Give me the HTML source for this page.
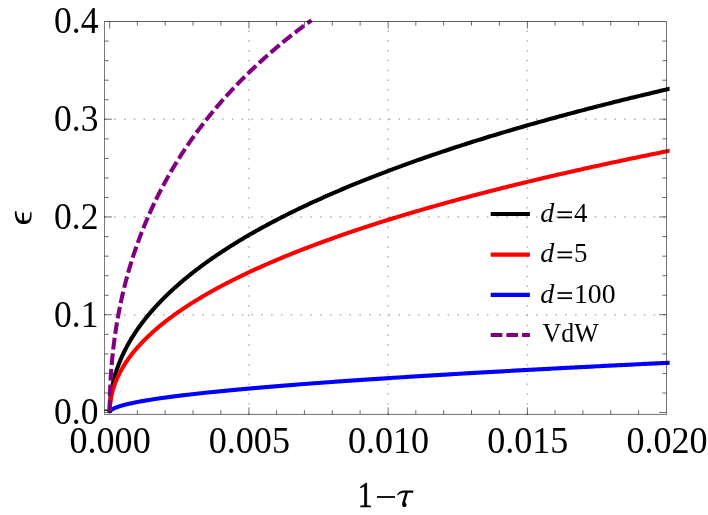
<!DOCTYPE html>
<html><head><meta charset="utf-8"><title>plot</title>
<style>
html,body{margin:0;padding:0;background:#fff;}
body{width:708px;height:515px;overflow:hidden;font-family:"Liberation Serif",serif;}
svg{display:block;will-change:transform;}
text{font-family:"Liberation Serif",serif;fill:#000;}
.it{font-style:italic;}
.grid line{stroke:#b0b0b0;stroke-width:1.45;stroke-dasharray:1.5 8.309;stroke-dashoffset:0.15;fill:none;}
.grid line.v{stroke-dashoffset:0.9;}
.frame line{fill:none;stroke:#000;stroke-width:1;}
.ticks line{stroke:#000;stroke-opacity:0.58;stroke-width:1;}
.ticks line.maj{stroke-width:1;}
.cv{fill:none;stroke-width:4.1;stroke-linecap:butt;stroke-linejoin:round;}
</style></head><body>
<svg width="708" height="515" viewBox="0 0 708 515">
<rect width="708" height="515" fill="#fff"/>
<g class="grid"><line class="v" x1="248.94" y1="21.50" x2="248.94" y2="414.40"/><line class="v" x1="388.17" y1="21.50" x2="388.17" y2="414.40"/><line class="v" x1="527.40" y1="21.50" x2="527.40" y2="414.40"/><line x1="104.50" y1="314.70" x2="666.50" y2="314.70"/><line x1="104.50" y1="216.95" x2="666.50" y2="216.95"/><line x1="104.50" y1="119.20" x2="666.50" y2="119.20"/></g>
<defs><clipPath id="cp"><rect x="100" y="15" width="569.6" height="405"/></clipPath></defs>
<g clip-path="url(#cp)">
<line x1="104.5" y1="410.2" x2="109.5" y2="410.2" stroke="#000" stroke-width="1.4"/>
<path class="cv" stroke="#000" d="M109.70 412.45 L109.70 411.48 L109.71 410.50 L109.73 409.53 L109.76 408.56 L109.79 407.59 L109.83 406.62 L109.87 405.65 L109.93 404.68 L109.99 403.72 L110.05 402.75 L110.13 401.78 L110.21 400.82 L110.30 399.86 L110.39 398.89 L110.50 397.93 L110.61 396.97 L110.72 396.01 L110.85 395.05 L110.98 394.09 L111.12 393.13 L111.26 392.17 L111.41 391.22 L111.57 390.26 L111.74 389.30 L111.91 388.35 L112.09 387.40 L112.28 386.44 L112.47 385.49 L112.68 384.54 L112.88 383.59 L113.10 382.64 L113.32 381.69 L113.55 380.75 L113.79 379.80 L114.03 378.85 L114.29 377.91 L114.54 376.96 L114.81 376.02 L115.08 375.08 L115.36 374.13 L115.65 373.19 L115.94 372.25 L116.24 371.31 L116.55 370.37 L116.87 369.43 L117.19 368.50 L117.52 367.56 L117.85 366.62 L118.20 365.69 L118.55 364.76 L118.90 363.82 L119.27 362.89 L119.64 361.96 L120.02 361.03 L120.40 360.10 L120.80 359.17 L121.20 358.24 L121.60 357.31 L122.02 356.38 L122.44 355.46 L122.87 354.53 L123.30 353.61 L123.74 352.68 L124.19 351.76 L124.65 350.84 L125.11 349.92 L125.58 349.00 L126.06 348.08 L126.55 347.16 L127.04 346.24 L127.54 345.32 L128.04 344.41 L128.56 343.49 L129.08 342.58 L129.60 341.66 L130.14 340.75 L130.68 339.84 L131.23 338.93 L131.78 338.02 L132.35 337.11 L132.91 336.20 L133.49 335.29 L134.08 334.38 L134.67 333.47 L135.26 332.57 L135.87 331.66 L136.48 330.76 L137.10 329.86 L137.73 328.95 L138.36 328.05 L139.00 327.15 L139.65 326.25 L140.30 325.35 L140.96 324.45 L141.63 323.55 L142.31 322.66 L142.99 321.76 L143.68 320.86 L144.38 319.97 L145.08 319.08 L145.79 318.18 L146.51 317.29 L147.24 316.40 L147.97 315.51 L148.71 314.62 L149.46 313.73 L150.21 312.84 L150.97 311.95 L151.74 311.07 L152.51 310.18 L153.30 309.30 L154.08 308.41 L154.88 307.53 L155.68 306.65 L156.49 305.77 L157.31 304.88 L158.14 304.00 L158.97 303.13 L159.81 302.25 L160.65 301.37 L161.50 300.49 L162.36 299.62 L163.23 298.74 L164.10 297.87 L164.99 296.99 L165.87 296.12 L166.77 295.25 L167.67 294.38 L168.58 293.51 L169.50 292.64 L170.42 291.77 L171.35 290.90 L172.29 290.03 L173.23 289.17 L174.19 288.30 L175.14 287.44 L176.11 286.57 L177.08 285.71 L178.06 284.85 L179.05 283.98 L180.04 283.12 L181.05 282.26 L182.05 281.40 L183.07 280.55 L184.09 279.69 L185.12 278.83 L186.16 277.98 L187.20 277.12 L188.25 276.27 L189.31 275.41 L190.38 274.56 L191.45 273.71 L192.53 272.86 L193.61 272.01 L194.71 271.16 L195.81 270.31 L196.92 269.46 L198.03 268.61 L199.15 267.77 L200.28 266.92 L201.42 266.08 L202.56 265.23 L203.71 264.39 L204.87 263.55 L206.03 262.71 L207.20 261.87 L208.38 261.03 L209.56 260.19 L210.76 259.35 L211.96 258.51 L213.16 257.68 L214.38 256.84 L215.60 256.00 L216.83 255.17 L218.06 254.34 L219.30 253.50 L220.55 252.67 L221.81 251.84 L223.07 251.01 L224.34 250.18 L225.62 249.35 L226.90 248.53 L228.19 247.70 L229.49 246.87 L230.80 246.05 L232.11 245.22 L233.43 244.40 L234.76 243.58 L236.09 242.75 L237.43 241.93 L238.78 241.11 L240.14 240.29 L241.50 239.47 L242.87 238.66 L244.24 237.84 L245.63 237.02 L247.02 236.21 L248.42 235.39 L249.82 234.58 L251.23 233.77 L252.65 232.95 L254.08 232.14 L255.51 231.33 L256.95 230.52 L258.40 229.71 L259.85 228.90 L261.31 228.10 L262.78 227.29 L264.26 226.48 L265.74 225.68 L267.23 224.87 L268.73 224.07 L270.23 223.27 L271.74 222.47 L273.26 221.66 L274.78 220.86 L276.31 220.06 L277.85 219.27 L279.40 218.47 L280.95 217.67 L282.51 216.87 L284.08 216.08 L285.66 215.28 L287.24 214.49 L288.83 213.70 L290.42 212.91 L292.02 212.11 L293.63 211.32 L295.25 210.53 L296.88 209.74 L298.51 208.96 L300.15 208.17 L301.79 207.38 L303.44 206.60 L305.10 205.81 L306.77 205.03 L308.44 204.24 L310.12 203.46 L311.81 202.68 L313.51 201.90 L315.21 201.12 L316.92 200.34 L318.63 199.56 L320.36 198.78 L322.09 198.01 L323.82 197.23 L325.57 196.45 L327.32 195.68 L329.08 194.91 L330.84 194.13 L332.62 193.36 L334.40 192.59 L336.18 191.82 L337.98 191.05 L339.78 190.28 L341.59 189.51 L343.40 188.75 L345.22 187.98 L347.05 187.21 L348.89 186.45 L350.73 185.69 L352.58 184.92 L354.44 184.16 L356.30 183.40 L358.18 182.64 L360.06 181.88 L361.94 181.12 L363.83 180.36 L365.73 179.60 L367.64 178.85 L369.56 178.09 L371.48 177.33 L373.41 176.58 L375.34 175.83 L377.28 175.07 L379.23 174.32 L381.19 173.57 L383.15 172.82 L385.12 172.07 L387.10 171.32 L389.09 170.57 L391.08 169.83 L393.08 169.08 L395.08 168.34 L397.10 167.59 L399.12 166.85 L401.15 166.10 L403.18 165.36 L405.22 164.62 L407.27 163.88 L409.33 163.14 L411.39 162.40 L413.46 161.66 L415.54 160.93 L417.62 160.19 L419.71 159.45 L421.81 158.72 L423.91 157.98 L426.03 157.25 L428.15 156.52 L430.27 155.79 L432.41 155.06 L434.55 154.32 L436.70 153.60 L438.85 152.87 L441.01 152.14 L443.18 151.41 L445.36 150.69 L447.54 149.96 L449.73 149.24 L451.93 148.51 L454.13 147.79 L456.34 147.07 L458.56 146.35 L460.79 145.63 L463.02 144.91 L465.26 144.19 L467.51 143.47 L469.76 142.75 L472.02 142.04 L474.29 141.32 L476.56 140.61 L478.85 139.89 L481.14 139.18 L483.43 138.47 L485.74 137.75 L488.05 137.04 L490.36 136.33 L492.69 135.62 L495.02 134.92 L497.36 134.21 L499.70 133.50 L502.06 132.80 L504.42 132.09 L506.79 131.39 L509.16 130.68 L511.54 129.98 L513.93 129.28 L516.32 128.58 L518.73 127.88 L521.14 127.18 L523.55 126.48 L525.98 125.78 L528.41 125.08 L530.85 124.39 L533.29 123.69 L535.74 123.00 L538.20 122.30 L540.67 121.61 L543.14 120.92 L545.62 120.23 L548.11 119.54 L550.60 118.85 L553.10 118.16 L555.61 117.47 L558.13 116.78 L560.65 116.09 L563.18 115.41 L565.72 114.72 L568.26 114.04 L570.81 113.36 L573.37 112.67 L575.94 111.99 L578.51 111.31 L581.09 110.63 L583.68 109.95 L586.27 109.27 L588.87 108.60 L591.48 107.92 L594.09 107.24 L596.71 106.57 L599.34 105.89 L601.98 105.22 L604.62 104.55 L607.27 103.87 L609.93 103.20 L612.59 102.53 L615.27 101.86 L617.94 101.19 L620.63 100.53 L623.32 99.86 L626.02 99.19 L628.73 98.53 L631.44 97.86 L634.16 97.20 L636.89 96.53 L639.63 95.87 L642.37 95.21 L645.12 94.55 L647.87 93.89 L650.64 93.23 L653.41 92.57 L656.19 91.91 L658.97 91.26 L661.76 90.60 L664.56 89.95 L667.37 89.29 L670.18 88.64 L673.00 87.99"/>
<path class="cv" stroke="#f00" d="M109.70 412.45 L109.70 411.70 L109.71 410.94 L109.73 410.19 L109.76 409.43 L109.79 408.68 L109.83 407.93 L109.87 407.18 L109.93 406.42 L109.99 405.67 L110.05 404.92 L110.13 404.17 L110.21 403.42 L110.30 402.67 L110.39 401.93 L110.50 401.18 L110.61 400.43 L110.72 399.68 L110.85 398.94 L110.98 398.19 L111.12 397.45 L111.26 396.70 L111.41 395.96 L111.57 395.21 L111.74 394.47 L111.91 393.72 L112.09 392.98 L112.28 392.24 L112.47 391.50 L112.68 390.76 L112.88 390.02 L113.10 389.28 L113.32 388.54 L113.55 387.80 L113.79 387.06 L114.03 386.32 L114.29 385.58 L114.54 384.84 L114.81 384.11 L115.08 383.37 L115.36 382.64 L115.65 381.90 L115.94 381.17 L116.24 380.43 L116.55 379.70 L116.87 378.96 L117.19 378.23 L117.52 377.50 L117.85 376.77 L118.20 376.04 L118.55 375.30 L118.90 374.57 L119.27 373.84 L119.64 373.11 L120.02 372.39 L120.40 371.66 L120.80 370.93 L121.20 370.20 L121.60 369.47 L122.02 368.75 L122.44 368.02 L122.87 367.30 L123.30 366.57 L123.74 365.85 L124.19 365.12 L124.65 364.40 L125.11 363.68 L125.58 362.95 L126.06 362.23 L126.55 361.51 L127.04 360.79 L127.54 360.07 L128.04 359.35 L128.56 358.63 L129.08 357.91 L129.60 357.19 L130.14 356.47 L130.68 355.75 L131.23 355.04 L131.78 354.32 L132.35 353.60 L132.91 352.89 L133.49 352.17 L134.08 351.46 L134.67 350.74 L135.26 350.03 L135.87 349.32 L136.48 348.60 L137.10 347.89 L137.73 347.18 L138.36 346.47 L139.00 345.76 L139.65 345.05 L140.30 344.34 L140.96 343.63 L141.63 342.92 L142.31 342.21 L142.99 341.50 L143.68 340.80 L144.38 340.09 L145.08 339.38 L145.79 338.68 L146.51 337.97 L147.24 337.27 L147.97 336.56 L148.71 335.86 L149.46 335.15 L150.21 334.45 L150.97 333.75 L151.74 333.05 L152.51 332.34 L153.30 331.64 L154.08 330.94 L154.88 330.24 L155.68 329.54 L156.49 328.84 L157.31 328.15 L158.14 327.45 L158.97 326.75 L159.81 326.05 L160.65 325.36 L161.50 324.66 L162.36 323.96 L163.23 323.27 L164.10 322.57 L164.99 321.88 L165.87 321.19 L166.77 320.49 L167.67 319.80 L168.58 319.11 L169.50 318.42 L170.42 317.72 L171.35 317.03 L172.29 316.34 L173.23 315.65 L174.19 314.96 L175.14 314.28 L176.11 313.59 L177.08 312.90 L178.06 312.21 L179.05 311.52 L180.04 310.84 L181.05 310.15 L182.05 309.47 L183.07 308.78 L184.09 308.10 L185.12 307.41 L186.16 306.73 L187.20 306.05 L188.25 305.36 L189.31 304.68 L190.38 304.00 L191.45 303.32 L192.53 302.64 L193.61 301.96 L194.71 301.28 L195.81 300.60 L196.92 299.92 L198.03 299.24 L199.15 298.57 L200.28 297.89 L201.42 297.21 L202.56 296.54 L203.71 295.86 L204.87 295.19 L206.03 294.51 L207.20 293.84 L208.38 293.16 L209.56 292.49 L210.76 291.82 L211.96 291.15 L213.16 290.47 L214.38 289.80 L215.60 289.13 L216.83 288.46 L218.06 287.79 L219.30 287.12 L220.55 286.45 L221.81 285.78 L223.07 285.12 L224.34 284.45 L225.62 283.78 L226.90 283.12 L228.19 282.45 L229.49 281.79 L230.80 281.12 L232.11 280.46 L233.43 279.79 L234.76 279.13 L236.09 278.47 L237.43 277.80 L238.78 277.14 L240.14 276.48 L241.50 275.82 L242.87 275.16 L244.24 274.50 L245.63 273.84 L247.02 273.18 L248.42 272.52 L249.82 271.86 L251.23 271.21 L252.65 270.55 L254.08 269.89 L255.51 269.24 L256.95 268.58 L258.40 267.93 L259.85 267.27 L261.31 266.62 L262.78 265.96 L264.26 265.31 L265.74 264.66 L267.23 264.00 L268.73 263.35 L270.23 262.70 L271.74 262.05 L273.26 261.40 L274.78 260.75 L276.31 260.10 L277.85 259.45 L279.40 258.80 L280.95 258.16 L282.51 257.51 L284.08 256.86 L285.66 256.22 L287.24 255.57 L288.83 254.93 L290.42 254.28 L292.02 253.64 L293.63 252.99 L295.25 252.35 L296.88 251.71 L298.51 251.06 L300.15 250.42 L301.79 249.78 L303.44 249.14 L305.10 248.50 L306.77 247.86 L308.44 247.22 L310.12 246.58 L311.81 245.94 L313.51 245.30 L315.21 244.67 L316.92 244.03 L318.63 243.39 L320.36 242.76 L322.09 242.12 L323.82 241.49 L325.57 240.85 L327.32 240.22 L329.08 239.58 L330.84 238.95 L332.62 238.32 L334.40 237.69 L336.18 237.06 L337.98 236.42 L339.78 235.79 L341.59 235.16 L343.40 234.53 L345.22 233.90 L347.05 233.28 L348.89 232.65 L350.73 232.02 L352.58 231.39 L354.44 230.77 L356.30 230.14 L358.18 229.51 L360.06 228.89 L361.94 228.26 L363.83 227.64 L365.73 227.02 L367.64 226.39 L369.56 225.77 L371.48 225.15 L373.41 224.53 L375.34 223.90 L377.28 223.28 L379.23 222.66 L381.19 222.04 L383.15 221.42 L385.12 220.80 L387.10 220.19 L389.09 219.57 L391.08 218.95 L393.08 218.33 L395.08 217.72 L397.10 217.10 L399.12 216.49 L401.15 215.87 L403.18 215.26 L405.22 214.64 L407.27 214.03 L409.33 213.42 L411.39 212.80 L413.46 212.19 L415.54 211.58 L417.62 210.97 L419.71 210.36 L421.81 209.75 L423.91 209.14 L426.03 208.53 L428.15 207.92 L430.27 207.31 L432.41 206.70 L434.55 206.10 L436.70 205.49 L438.85 204.88 L441.01 204.28 L443.18 203.67 L445.36 203.07 L447.54 202.46 L449.73 201.86 L451.93 201.26 L454.13 200.65 L456.34 200.05 L458.56 199.45 L460.79 198.85 L463.02 198.25 L465.26 197.65 L467.51 197.05 L469.76 196.45 L472.02 195.85 L474.29 195.25 L476.56 194.65 L478.85 194.06 L481.14 193.46 L483.43 192.86 L485.74 192.27 L488.05 191.67 L490.36 191.08 L492.69 190.48 L495.02 189.89 L497.36 189.29 L499.70 188.70 L502.06 188.11 L504.42 187.52 L506.79 186.93 L509.16 186.33 L511.54 185.74 L513.93 185.15 L516.32 184.56 L518.73 183.98 L521.14 183.39 L523.55 182.80 L525.98 182.21 L528.41 181.62 L530.85 181.04 L533.29 180.45 L535.74 179.87 L538.20 179.28 L540.67 178.70 L543.14 178.11 L545.62 177.53 L548.11 176.94 L550.60 176.36 L553.10 175.78 L555.61 175.20 L558.13 174.62 L560.65 174.04 L563.18 173.46 L565.72 172.88 L568.26 172.30 L570.81 171.72 L573.37 171.14 L575.94 170.56 L578.51 169.98 L581.09 169.41 L583.68 168.83 L586.27 168.26 L588.87 167.68 L591.48 167.10 L594.09 166.53 L596.71 165.96 L599.34 165.38 L601.98 164.81 L604.62 164.24 L607.27 163.67 L609.93 163.09 L612.59 162.52 L615.27 161.95 L617.94 161.38 L620.63 160.81 L623.32 160.24 L626.02 159.68 L628.73 159.11 L631.44 158.54 L634.16 157.97 L636.89 157.41 L639.63 156.84 L642.37 156.27 L645.12 155.71 L647.87 155.15 L650.64 154.58 L653.41 154.02 L656.19 153.45 L658.97 152.89 L661.76 152.33 L664.56 151.77 L667.37 151.21 L670.18 150.65 L673.00 150.09"/>
<path class="cv" stroke="#00f" d="M109.70 412.45 L109.70 412.33 L109.71 412.22 L109.73 412.10 L109.76 411.99 L109.79 411.87 L109.83 411.75 L109.87 411.64 L109.93 411.52 L109.99 411.40 L110.05 411.29 L110.13 411.17 L110.21 411.06 L110.30 410.94 L110.39 410.82 L110.50 410.71 L110.61 410.59 L110.72 410.47 L110.85 410.36 L110.98 410.24 L111.12 410.12 L111.26 410.00 L111.41 409.89 L111.57 409.77 L111.74 409.65 L111.91 409.54 L112.09 409.42 L112.28 409.30 L112.47 409.19 L112.68 409.07 L112.88 408.95 L113.10 408.83 L113.32 408.72 L113.55 408.60 L113.79 408.48 L114.03 408.36 L114.29 408.25 L114.54 408.13 L114.81 408.01 L115.08 407.89 L115.36 407.78 L115.65 407.66 L115.94 407.54 L116.24 407.42 L116.55 407.30 L116.87 407.19 L117.19 407.07 L117.52 406.95 L117.85 406.83 L118.20 406.71 L118.55 406.60 L118.90 406.48 L119.27 406.36 L119.64 406.24 L120.02 406.12 L120.40 406.00 L120.80 405.89 L121.20 405.77 L121.60 405.65 L122.02 405.53 L122.44 405.41 L122.87 405.29 L123.30 405.17 L123.74 405.05 L124.19 404.94 L124.65 404.82 L125.11 404.70 L125.58 404.58 L126.06 404.46 L126.55 404.34 L127.04 404.22 L127.54 404.10 L128.04 403.98 L128.56 403.86 L129.08 403.75 L129.60 403.63 L130.14 403.51 L130.68 403.39 L131.23 403.27 L131.78 403.15 L132.35 403.03 L132.91 402.91 L133.49 402.79 L134.08 402.67 L134.67 402.55 L135.26 402.43 L135.87 402.31 L136.48 402.19 L137.10 402.07 L137.73 401.95 L138.36 401.83 L139.00 401.71 L139.65 401.59 L140.30 401.47 L140.96 401.35 L141.63 401.23 L142.31 401.11 L142.99 400.99 L143.68 400.87 L144.38 400.75 L145.08 400.63 L145.79 400.51 L146.51 400.39 L147.24 400.27 L147.97 400.15 L148.71 400.02 L149.46 399.90 L150.21 399.78 L150.97 399.66 L151.74 399.54 L152.51 399.42 L153.30 399.30 L154.08 399.18 L154.88 399.06 L155.68 398.94 L156.49 398.82 L157.31 398.69 L158.14 398.57 L158.97 398.45 L159.81 398.33 L160.65 398.21 L161.50 398.09 L162.36 397.97 L163.23 397.84 L164.10 397.72 L164.99 397.60 L165.87 397.48 L166.77 397.36 L167.67 397.24 L168.58 397.12 L169.50 396.99 L170.42 396.87 L171.35 396.75 L172.29 396.63 L173.23 396.51 L174.19 396.38 L175.14 396.26 L176.11 396.14 L177.08 396.02 L178.06 395.89 L179.05 395.77 L180.04 395.65 L181.05 395.53 L182.05 395.41 L183.07 395.28 L184.09 395.16 L185.12 395.04 L186.16 394.92 L187.20 394.79 L188.25 394.67 L189.31 394.55 L190.38 394.42 L191.45 394.30 L192.53 394.18 L193.61 394.06 L194.71 393.93 L195.81 393.81 L196.92 393.69 L198.03 393.56 L199.15 393.44 L200.28 393.32 L201.42 393.19 L202.56 393.07 L203.71 392.95 L204.87 392.82 L206.03 392.70 L207.20 392.58 L208.38 392.45 L209.56 392.33 L210.76 392.21 L211.96 392.08 L213.16 391.96 L214.38 391.84 L215.60 391.71 L216.83 391.59 L218.06 391.46 L219.30 391.34 L220.55 391.22 L221.81 391.09 L223.07 390.97 L224.34 390.84 L225.62 390.72 L226.90 390.60 L228.19 390.47 L229.49 390.35 L230.80 390.22 L232.11 390.10 L233.43 389.98 L234.76 389.85 L236.09 389.73 L237.43 389.60 L238.78 389.48 L240.14 389.35 L241.50 389.23 L242.87 389.10 L244.24 388.98 L245.63 388.85 L247.02 388.73 L248.42 388.60 L249.82 388.48 L251.23 388.35 L252.65 388.23 L254.08 388.10 L255.51 387.98 L256.95 387.85 L258.40 387.73 L259.85 387.60 L261.31 387.48 L262.78 387.35 L264.26 387.23 L265.74 387.10 L267.23 386.98 L268.73 386.85 L270.23 386.72 L271.74 386.60 L273.26 386.47 L274.78 386.35 L276.31 386.22 L277.85 386.10 L279.40 385.97 L280.95 385.84 L282.51 385.72 L284.08 385.59 L285.66 385.47 L287.24 385.34 L288.83 385.21 L290.42 385.09 L292.02 384.96 L293.63 384.84 L295.25 384.71 L296.88 384.58 L298.51 384.46 L300.15 384.33 L301.79 384.20 L303.44 384.08 L305.10 383.95 L306.77 383.82 L308.44 383.70 L310.12 383.57 L311.81 383.44 L313.51 383.32 L315.21 383.19 L316.92 383.06 L318.63 382.94 L320.36 382.81 L322.09 382.68 L323.82 382.56 L325.57 382.43 L327.32 382.30 L329.08 382.17 L330.84 382.05 L332.62 381.92 L334.40 381.79 L336.18 381.67 L337.98 381.54 L339.78 381.41 L341.59 381.28 L343.40 381.16 L345.22 381.03 L347.05 380.90 L348.89 380.77 L350.73 380.64 L352.58 380.52 L354.44 380.39 L356.30 380.26 L358.18 380.13 L360.06 380.01 L361.94 379.88 L363.83 379.75 L365.73 379.62 L367.64 379.49 L369.56 379.36 L371.48 379.24 L373.41 379.11 L375.34 378.98 L377.28 378.85 L379.23 378.72 L381.19 378.59 L383.15 378.47 L385.12 378.34 L387.10 378.21 L389.09 378.08 L391.08 377.95 L393.08 377.82 L395.08 377.69 L397.10 377.57 L399.12 377.44 L401.15 377.31 L403.18 377.18 L405.22 377.05 L407.27 376.92 L409.33 376.79 L411.39 376.66 L413.46 376.53 L415.54 376.40 L417.62 376.27 L419.71 376.15 L421.81 376.02 L423.91 375.89 L426.03 375.76 L428.15 375.63 L430.27 375.50 L432.41 375.37 L434.55 375.24 L436.70 375.11 L438.85 374.98 L441.01 374.85 L443.18 374.72 L445.36 374.59 L447.54 374.46 L449.73 374.33 L451.93 374.20 L454.13 374.07 L456.34 373.94 L458.56 373.81 L460.79 373.68 L463.02 373.55 L465.26 373.42 L467.51 373.29 L469.76 373.16 L472.02 373.03 L474.29 372.90 L476.56 372.77 L478.85 372.64 L481.14 372.51 L483.43 372.38 L485.74 372.24 L488.05 372.11 L490.36 371.98 L492.69 371.85 L495.02 371.72 L497.36 371.59 L499.70 371.46 L502.06 371.33 L504.42 371.20 L506.79 371.07 L509.16 370.94 L511.54 370.80 L513.93 370.67 L516.32 370.54 L518.73 370.41 L521.14 370.28 L523.55 370.15 L525.98 370.02 L528.41 369.88 L530.85 369.75 L533.29 369.62 L535.74 369.49 L538.20 369.36 L540.67 369.23 L543.14 369.09 L545.62 368.96 L548.11 368.83 L550.60 368.70 L553.10 368.57 L555.61 368.44 L558.13 368.30 L560.65 368.17 L563.18 368.04 L565.72 367.91 L568.26 367.77 L570.81 367.64 L573.37 367.51 L575.94 367.38 L578.51 367.25 L581.09 367.11 L583.68 366.98 L586.27 366.85 L588.87 366.72 L591.48 366.58 L594.09 366.45 L596.71 366.32 L599.34 366.18 L601.98 366.05 L604.62 365.92 L607.27 365.79 L609.93 365.65 L612.59 365.52 L615.27 365.39 L617.94 365.25 L620.63 365.12 L623.32 364.99 L626.02 364.85 L628.73 364.72 L631.44 364.59 L634.16 364.45 L636.89 364.32 L639.63 364.19 L642.37 364.05 L645.12 363.92 L647.87 363.79 L650.64 363.65 L653.41 363.52 L656.19 363.39 L658.97 363.25 L661.76 363.12 L664.56 362.99 L667.37 362.85 L670.18 362.72 L673.00 362.58"/>
<path class="cv" stroke="#800080" stroke-dasharray="11.7 3.95" stroke-dashoffset="-0.55" d="M109.70 412.45 L109.70 411.11 L109.71 409.78 L109.71 408.45 L109.72 407.12 L109.74 405.79 L109.75 404.46 L109.77 403.14 L109.80 401.81 L109.82 400.49 L109.85 399.17 L109.88 397.85 L109.91 396.53 L109.95 395.21 L109.99 393.89 L110.03 392.58 L110.08 391.27 L110.13 389.95 L110.18 388.64 L110.24 387.34 L110.29 386.03 L110.36 384.72 L110.42 383.42 L110.49 382.12 L110.56 380.82 L110.63 379.52 L110.71 378.22 L110.78 376.92 L110.87 375.63 L110.95 374.33 L111.04 373.04 L111.13 371.75 L111.22 370.46 L111.32 369.17 L111.42 367.88 L111.52 366.60 L111.63 365.32 L111.74 364.03 L111.85 362.75 L111.96 361.47 L112.08 360.20 L112.20 358.92 L112.32 357.65 L112.45 356.37 L112.58 355.10 L112.71 353.83 L112.85 352.56 L112.98 351.29 L113.13 350.03 L113.27 348.76 L113.42 347.50 L113.57 346.24 L113.72 344.98 L113.88 343.72 L114.04 342.46 L114.20 341.21 L114.36 339.95 L114.53 338.70 L114.70 337.45 L114.88 336.20 L115.05 334.95 L115.23 333.71 L115.42 332.46 L115.60 331.22 L115.79 329.97 L115.98 328.73 L116.18 327.49 L116.37 326.26 L116.57 325.02 L116.78 323.78 L116.99 322.55 L117.19 321.32 L117.41 320.09 L117.62 318.86 L117.84 317.63 L118.06 316.41 L118.29 315.18 L118.52 313.96 L118.75 312.74 L118.98 311.52 L119.22 310.30 L119.45 309.08 L119.70 307.86 L119.94 306.65 L120.19 305.44 L120.44 304.23 L120.70 303.02 L120.95 301.81 L121.21 300.60 L121.48 299.39 L121.74 298.19 L122.01 296.99 L122.28 295.79 L122.56 294.59 L122.84 293.39 L123.12 292.19 L123.40 291.00 L123.69 289.80 L123.98 288.61 L124.27 287.42 L124.57 286.23 L124.87 285.04 L125.17 283.86 L125.47 282.67 L125.78 281.49 L126.09 280.31 L126.41 279.13 L126.72 277.95 L127.04 276.77 L127.36 275.59 L127.69 274.42 L128.02 273.25 L128.35 272.07 L128.68 270.90 L129.02 269.73 L129.36 268.57 L129.71 267.40 L130.05 266.24 L130.40 265.07 L130.75 263.91 L131.11 262.75 L131.47 261.59 L131.83 260.44 L132.19 259.28 L132.56 258.13 L132.93 256.98 L133.30 255.82 L133.68 254.68 L134.06 253.53 L134.44 252.38 L134.83 251.24 L135.21 250.09 L135.61 248.95 L136.00 247.81 L136.40 246.67 L136.80 245.53 L137.20 244.39 L137.61 243.26 L138.01 242.13 L138.43 240.99 L138.84 239.86 L139.26 238.74 L139.68 237.61 L140.10 236.48 L140.53 235.36 L140.96 234.23 L141.39 233.11 L141.83 231.99 L142.27 230.87 L142.71 229.76 L143.15 228.64 L143.60 227.53 L144.05 226.41 L144.50 225.30 L144.96 224.19 L145.42 223.08 L145.88 221.98 L146.35 220.87 L146.82 219.77 L147.29 218.66 L147.76 217.56 L148.24 216.46 L148.72 215.37 L149.20 214.27 L149.69 213.17 L150.18 212.08 L150.67 210.99 L151.17 209.90 L151.66 208.81 L152.16 207.72 L152.67 206.63 L153.18 205.55 L153.69 204.47 L154.20 203.38 L154.71 202.30 L155.23 201.23 L155.76 200.15 L156.28 199.07 L156.81 198.00 L157.34 196.92 L157.87 195.85 L158.41 194.78 L158.95 193.71 L159.49 192.65 L160.04 191.58 L160.59 190.52 L161.14 189.45 L161.69 188.39 L162.25 187.33 L162.81 186.27 L163.37 185.22 L163.94 184.16 L164.51 183.11 L165.08 182.06 L165.66 181.00 L166.24 179.96 L166.82 178.91 L167.40 177.86 L167.99 176.82 L168.58 175.77 L169.17 174.73 L169.77 173.69 L170.37 172.65 L170.97 171.61 L171.57 170.58 L172.18 169.54 L172.79 168.51 L173.41 167.48 L174.02 166.45 L174.64 165.42 L175.27 164.39 L175.89 163.36 L176.52 162.34 L177.15 161.32 L177.79 160.29 L178.43 159.27 L179.07 158.26 L179.71 157.24 L180.36 156.22 L181.01 155.21 L181.66 154.20 L182.32 153.18 L182.98 152.17 L183.64 151.17 L184.30 150.16 L184.97 149.15 L185.64 148.15 L186.31 147.15 L186.99 146.15 L187.67 145.15 L188.35 144.15 L189.04 143.15 L189.73 142.16 L190.42 141.16 L191.11 140.17 L191.81 139.18 L192.51 138.19 L193.21 137.20 L193.92 136.22 L194.63 135.23 L195.34 134.25 L196.05 133.27 L196.77 132.29 L197.49 131.31 L198.22 130.33 L198.94 129.36 L199.67 128.38 L200.41 127.41 L201.14 126.44 L201.88 125.47 L202.62 124.50 L203.37 123.53 L204.12 122.57 L204.87 121.60 L205.62 120.64 L206.38 119.68 L207.14 118.72 L207.90 117.76 L208.67 116.80 L209.44 115.85 L210.21 114.89 L210.98 113.94 L211.76 112.99 L212.54 112.04 L213.32 111.09 L214.11 110.15 L214.90 109.20 L215.69 108.26 L216.49 107.32 L217.29 106.37 L218.09 105.44 L218.89 104.50 L219.70 103.56 L220.51 102.63 L221.32 101.69 L222.14 100.76 L222.96 99.83 L223.78 98.90 L224.61 97.98 L225.43 97.05 L226.26 96.13 L227.10 95.20 L227.94 94.28 L228.78 93.36 L229.62 92.44 L230.47 91.53 L231.31 90.61 L232.17 89.70 L233.02 88.78 L233.88 87.87 L234.74 86.96 L235.60 86.05 L236.47 85.15 L237.34 84.24 L238.21 83.34 L239.09 82.44 L239.97 81.53 L240.85 80.64 L241.73 79.74 L242.62 78.84 L243.51 77.95 L244.41 77.05 L245.30 76.16 L246.20 75.27 L247.10 74.38 L248.01 73.49 L248.92 72.61 L249.83 71.72 L250.74 70.84 L251.66 69.96 L252.58 69.08 L253.50 68.20 L254.43 67.32 L255.36 66.44 L256.29 65.57 L257.23 64.70 L258.17 63.83 L259.11 62.96 L260.05 62.09 L261.00 61.22 L261.95 60.36 L262.90 59.49 L263.86 58.63 L264.82 57.77 L265.78 56.91 L266.74 56.05 L267.71 55.19 L268.68 54.34 L269.66 53.48 L270.63 52.63 L271.61 51.78 L272.59 50.93 L273.58 50.08 L274.57 49.24 L275.56 48.39 L276.56 47.55 L277.55 46.71 L278.55 45.87 L279.56 45.03 L280.56 44.19 L281.57 43.35 L282.59 42.52 L283.60 41.69 L284.62 40.85 L285.64 40.02 L286.67 39.19 L287.69 38.37 L288.72 37.54 L289.76 36.72 L290.79 35.89 L291.83 35.07 L292.87 34.25 L293.92 33.43 L294.97 32.62 L296.02 31.80 L297.07 30.99 L298.13 30.18 L299.19 29.36 L300.25 28.55 L301.32 27.75 L302.39 26.94 L303.46 26.13 L304.54 25.33 L305.61 24.53 L306.69 23.73 L307.78 22.93 L308.87 22.13 L309.96 21.33 L311.05 20.54 L311.41 20.28"/>
</g>
<g class="ticks"><line class="maj" x1="109.70" y1="414.40" x2="109.70" y2="407.40"/><line class="maj" x1="109.70" y1="21.50" x2="109.70" y2="28.50"/><line class="min" x1="137.35" y1="414.40" x2="137.35" y2="410.20"/><line class="min" x1="137.35" y1="21.50" x2="137.35" y2="25.70"/><line class="min" x1="165.19" y1="414.40" x2="165.19" y2="410.20"/><line class="min" x1="165.19" y1="21.50" x2="165.19" y2="25.70"/><line class="min" x1="193.04" y1="414.40" x2="193.04" y2="410.20"/><line class="min" x1="193.04" y1="21.50" x2="193.04" y2="25.70"/><line class="min" x1="220.89" y1="414.40" x2="220.89" y2="410.20"/><line class="min" x1="220.89" y1="21.50" x2="220.89" y2="25.70"/><line class="maj" x1="248.94" y1="414.40" x2="248.94" y2="407.40"/><line class="maj" x1="248.94" y1="21.50" x2="248.94" y2="28.50"/><line class="min" x1="276.58" y1="414.40" x2="276.58" y2="410.20"/><line class="min" x1="276.58" y1="21.50" x2="276.58" y2="25.70"/><line class="min" x1="304.43" y1="414.40" x2="304.43" y2="410.20"/><line class="min" x1="304.43" y1="21.50" x2="304.43" y2="25.70"/><line class="min" x1="332.28" y1="414.40" x2="332.28" y2="410.20"/><line class="min" x1="332.28" y1="21.50" x2="332.28" y2="25.70"/><line class="min" x1="360.12" y1="414.40" x2="360.12" y2="410.20"/><line class="min" x1="360.12" y1="21.50" x2="360.12" y2="25.70"/><line class="maj" x1="388.17" y1="414.40" x2="388.17" y2="407.40"/><line class="maj" x1="388.17" y1="21.50" x2="388.17" y2="28.50"/><line class="min" x1="415.82" y1="414.40" x2="415.82" y2="410.20"/><line class="min" x1="415.82" y1="21.50" x2="415.82" y2="25.70"/><line class="min" x1="443.66" y1="414.40" x2="443.66" y2="410.20"/><line class="min" x1="443.66" y1="21.50" x2="443.66" y2="25.70"/><line class="min" x1="471.51" y1="414.40" x2="471.51" y2="410.20"/><line class="min" x1="471.51" y1="21.50" x2="471.51" y2="25.70"/><line class="min" x1="499.36" y1="414.40" x2="499.36" y2="410.20"/><line class="min" x1="499.36" y1="21.50" x2="499.36" y2="25.70"/><line class="maj" x1="527.40" y1="414.40" x2="527.40" y2="407.40"/><line class="maj" x1="527.40" y1="21.50" x2="527.40" y2="28.50"/><line class="min" x1="555.05" y1="414.40" x2="555.05" y2="410.20"/><line class="min" x1="555.05" y1="21.50" x2="555.05" y2="25.70"/><line class="min" x1="582.90" y1="414.40" x2="582.90" y2="410.20"/><line class="min" x1="582.90" y1="21.50" x2="582.90" y2="25.70"/><line class="min" x1="610.75" y1="414.40" x2="610.75" y2="410.20"/><line class="min" x1="610.75" y1="21.50" x2="610.75" y2="25.70"/><line class="min" x1="638.59" y1="414.40" x2="638.59" y2="410.20"/><line class="min" x1="638.59" y1="21.50" x2="638.59" y2="25.70"/><line class="maj" x1="104.50" y1="412.45" x2="111.80" y2="412.45"/><line class="maj" x1="666.50" y1="412.45" x2="659.20" y2="412.45"/><line class="min" x1="104.50" y1="393.00" x2="108.70" y2="393.00"/><line class="min" x1="666.50" y1="393.00" x2="662.30" y2="393.00"/><line class="min" x1="104.50" y1="373.45" x2="108.70" y2="373.45"/><line class="min" x1="666.50" y1="373.45" x2="662.30" y2="373.45"/><line class="min" x1="104.50" y1="353.90" x2="108.70" y2="353.90"/><line class="min" x1="666.50" y1="353.90" x2="662.30" y2="353.90"/><line class="min" x1="104.50" y1="334.35" x2="108.70" y2="334.35"/><line class="min" x1="666.50" y1="334.35" x2="662.30" y2="334.35"/><line class="maj" x1="104.50" y1="314.70" x2="111.80" y2="314.70"/><line class="maj" x1="666.50" y1="314.70" x2="659.20" y2="314.70"/><line class="min" x1="104.50" y1="295.25" x2="108.70" y2="295.25"/><line class="min" x1="666.50" y1="295.25" x2="662.30" y2="295.25"/><line class="min" x1="104.50" y1="275.70" x2="108.70" y2="275.70"/><line class="min" x1="666.50" y1="275.70" x2="662.30" y2="275.70"/><line class="min" x1="104.50" y1="256.15" x2="108.70" y2="256.15"/><line class="min" x1="666.50" y1="256.15" x2="662.30" y2="256.15"/><line class="min" x1="104.50" y1="236.60" x2="108.70" y2="236.60"/><line class="min" x1="666.50" y1="236.60" x2="662.30" y2="236.60"/><line class="maj" x1="104.50" y1="216.95" x2="111.80" y2="216.95"/><line class="maj" x1="666.50" y1="216.95" x2="659.20" y2="216.95"/><line class="min" x1="104.50" y1="197.50" x2="108.70" y2="197.50"/><line class="min" x1="666.50" y1="197.50" x2="662.30" y2="197.50"/><line class="min" x1="104.50" y1="177.95" x2="108.70" y2="177.95"/><line class="min" x1="666.50" y1="177.95" x2="662.30" y2="177.95"/><line class="min" x1="104.50" y1="158.40" x2="108.70" y2="158.40"/><line class="min" x1="666.50" y1="158.40" x2="662.30" y2="158.40"/><line class="min" x1="104.50" y1="138.85" x2="108.70" y2="138.85"/><line class="min" x1="666.50" y1="138.85" x2="662.30" y2="138.85"/><line class="maj" x1="104.50" y1="119.20" x2="111.80" y2="119.20"/><line class="maj" x1="666.50" y1="119.20" x2="659.20" y2="119.20"/><line class="min" x1="104.50" y1="99.75" x2="108.70" y2="99.75"/><line class="min" x1="666.50" y1="99.75" x2="662.30" y2="99.75"/><line class="min" x1="104.50" y1="80.20" x2="108.70" y2="80.20"/><line class="min" x1="666.50" y1="80.20" x2="662.30" y2="80.20"/><line class="min" x1="104.50" y1="60.65" x2="108.70" y2="60.65"/><line class="min" x1="666.50" y1="60.65" x2="662.30" y2="60.65"/><line class="min" x1="104.50" y1="41.10" x2="108.70" y2="41.10"/><line class="min" x1="666.50" y1="41.10" x2="662.30" y2="41.10"/></g>
<g class="frame"><line x1="104.0" y1="21.5" x2="667.0" y2="21.5" stroke-opacity="0.62"/><line x1="104.0" y1="414.4" x2="667.0" y2="414.4" stroke-opacity="0.56"/><line x1="104.5" y1="22.0" x2="104.5" y2="413.9" stroke-opacity="0.52"/><line x1="666.5" y1="22.0" x2="666.5" y2="413.9" stroke-opacity="0.54"/></g>
<g><text transform="translate(98.50 424.45) scale(0.960 1)" font-size="37" text-anchor="end">0.0</text><text transform="translate(98.50 326.70) scale(0.960 1)" font-size="37" text-anchor="end">0.1</text><text transform="translate(98.50 228.95) scale(0.960 1)" font-size="37" text-anchor="end">0.2</text><text transform="translate(98.50 131.20) scale(0.960 1)" font-size="37" text-anchor="end">0.3</text><text transform="translate(98.50 33.45) scale(0.960 1)" font-size="37" text-anchor="end">0.4</text><text transform="translate(110.10 452.50) scale(0.975 1)" font-size="37" text-anchor="middle">0.000</text><text transform="translate(249.34 452.50) scale(0.975 1)" font-size="37" text-anchor="middle">0.005</text><text transform="translate(388.57 452.50) scale(0.975 1)" font-size="37" text-anchor="middle">0.010</text><text transform="translate(527.80 452.50) scale(0.975 1)" font-size="37" text-anchor="middle">0.015</text><text transform="translate(667.04 452.50) scale(0.975 1)" font-size="37" text-anchor="middle">0.020</text><text transform="translate(365.10 506.80) scale(0.800 1)" stroke="#000" stroke-width="0.7" font-size="36" text-anchor="middle">1</text><rect x="377" y="496.1" width="18" height="1.8"/>
<path fill="#000" d="M 397.06 494.88 C 397.98 492.97 400.16 490.63 403.15 490.42 L 413.48 490.42 L 413.04 492.70 L 407.77 492.70 L 405.21 501.67 C 405.05 502.49 406.25 503.03 406.57 504.94 C 406.68 506.29 405.32 507.27 403.96 507.06 C 402.60 506.84 401.79 505.48 402.22 503.03 L 405.27 492.70 L 403.15 492.70 C 401.24 492.70 399.61 493.68 397.71 495.53 Z"/>
<path fill="#000" d="M 14.88 211.21 C 14.64 215.99 15.58 220.76 19.07 222.98 C 21.40 224.44 26.65 224.44 28.98 222.69 C 31.60 220.65 32.01 216.57 31.31 212.02 L 30.03 212.26 C 30.38 215.99 29.79 218.78 28.10 220.07 C 26.65 221.00 21.52 220.88 20.00 219.95 C 17.67 218.55 16.74 215.40 16.51 211.21 Z"/><path fill="#000" d="M 21.99 212.84 L 23.85 212.66 L 24.32 222.10 L 22.22 222.10 Z"/>
</g>
<g class="leg">
<line x1="490.7" y1="214.0" x2="529.9" y2="214.0" stroke="#000" stroke-width="4.1"/>
<line x1="490.7" y1="254.6" x2="529.9" y2="254.6" stroke="#f00" stroke-width="4.1"/>
<line x1="490.7" y1="294.9" x2="529.9" y2="294.9" stroke="#00f" stroke-width="4.1"/>
<line x1="490.7" y1="334.9" x2="529.9" y2="334.9" stroke="#800080" stroke-width="4.0" stroke-dasharray="11.7 3.95"/>
<text transform="translate(540.20 221.70) scale(1.000 1)" font-size="28" text-anchor="start" class="it">d</text><text transform="translate(574.00 221.70) scale(0.960 1)" font-size="28" text-anchor="start">4</text><rect x="557.5" y="211.35" width="14.5" height="1.7"/><rect x="557.5" y="216.55" width="14.5" height="1.7"/><text transform="translate(540.20 261.80) scale(1.000 1)" font-size="28" text-anchor="start" class="it">d</text><text transform="translate(574.00 261.80) scale(0.960 1)" font-size="28" text-anchor="start">5</text><rect x="557.5" y="251.45" width="14.5" height="1.7"/><rect x="557.5" y="256.65" width="14.5" height="1.7"/><text transform="translate(540.20 302.50) scale(1.000 1)" font-size="28" text-anchor="start" class="it">d</text><text transform="translate(574.00 302.50) scale(0.990 1)" font-size="28" text-anchor="start">100</text><rect x="557.5" y="292.15" width="14.5" height="1.7"/><rect x="557.5" y="297.35" width="14.5" height="1.7"/><text transform="translate(542.60 341.90) scale(0.930 1)" font-size="27.8" text-anchor="start">VdW</text>
</g>
</svg>
</body></html>
